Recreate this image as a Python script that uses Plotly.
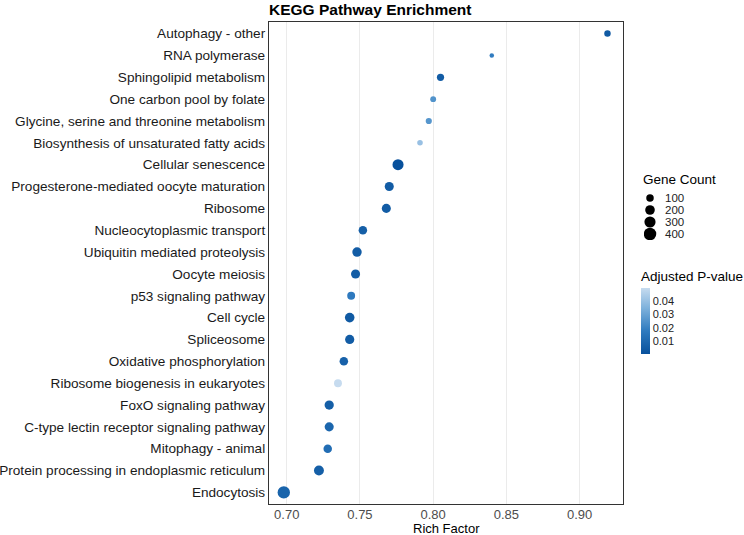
import plotly.graph_objects as go
import math

pathways = [
    "Autophagy - other",
    "RNA polymerase",
    "Sphingolipid metabolism",
    "One carbon pool by folate",
    "Glycine, serine and threonine metabolism",
    "Biosynthesis of unsaturated fatty acids",
    "Cellular senescence",
    "Progesterone-mediated oocyte maturation",
    "Ribosome",
    "Nucleocytoplasmic transport",
    "Ubiquitin mediated proteolysis",
    "Oocyte meiosis",
    "p53 signaling pathway",
    "Cell cycle",
    "Spliceosome",
    "Oxidative phosphorylation",
    "Ribosome biogenesis in eukaryotes",
    "FoxO signaling pathway",
    "C-type lectin receptor signaling pathway",
    "Mitophagy - animal",
    "Protein processing in endoplasmic reticulum",
    "Endocytosis",
]
rich_factor = [0.919, 0.840, 0.805, 0.800, 0.797, 0.791, 0.776, 0.770, 0.768,
               0.752, 0.748, 0.747, 0.744, 0.743, 0.743, 0.739, 0.735, 0.729,
               0.729, 0.728, 0.722, 0.698]
gene_count = [80, 25, 110, 60, 70, 50, 330, 200, 200, 170, 220, 200, 140, 230,
              210, 170, 140, 210, 200, 170, 250, 430]
padj = [0.004, 0.018, 0.005, 0.025, 0.026, 0.040, 0.0004, 0.005, 0.005, 0.006,
        0.005, 0.005, 0.017, 0.004, 0.005, 0.007, 0.0496, 0.006, 0.009, 0.012,
        0.006, 0.008]
legend_counts = [100, 200, 300, 400]
pval_ticks = [0.01, 0.02, 0.03, 0.04]
x_ticks = [0.70, 0.75, 0.80, 0.85, 0.90]


def diam(c):
    return 2 + 0.5 * math.sqrt(c)


FONT = "Liberation Sans, Arial, sans-serif"
colorscale = [[0.0, "#08519c"], [0.35, "#2f7bbf"], [0.7, "#7fb2dc"], [1.0, "#c6dbef"]]

W, H = 744, 535
ML, MR, MT, MB = 269, 0, 22, 31
PW, PH = W - ML - MR, H - MT - MB


def px_x(p):
    return (p - ML) / PW


def px_y(p):
    return (H - MB - p) / PH


fig = go.Figure()
fig.add_trace(go.Scatter(
    x=rich_factor, y=pathways, mode="markers", showlegend=False,
    xaxis="x", yaxis="y",
    marker=dict(
        size=[diam(c) for c in gene_count], sizemode="diameter",
        color=padj, colorscale=colorscale, cmin=min(padj), cmax=max(padj),
        line=dict(width=0), opacity=1,
        showscale=True,
        colorbar=dict(
            title=dict(text="Adjusted P-value", side="top",
                       font=dict(size=13.5, color="#000", family=FONT)),
            tickvals=pval_ticks, ticktext=[f"{v:.2f}" for v in pval_ticks],
            ticks="", ticklen=0, outlinewidth=0,
            tickfont=dict(size=11, color="#222", family=FONT),
            thickness=9, lenmode="pixels", len=86, ypad=0, xpad=0,
            x=px_x(641), xanchor="left", y=px_y(354), yanchor="bottom",
        ),
    ),
    hovertemplate="%{y}<br>Rich Factor: %{x}<extra></extra>",
))

# size legend drawn on its own small invisible axes
fig.add_trace(go.Scatter(
    x=[0] * len(legend_counts), y=list(range(len(legend_counts))),
    mode="markers", showlegend=False, xaxis="x2", yaxis="y2",
    marker=dict(size=[diam(c) + 0.5 for c in legend_counts], color="#000000",
                line=dict(width=0), opacity=1),
    hoverinfo="skip",
))
annotations = []
for i, c in enumerate(legend_counts):
    annotations.append(dict(
        x=1.3, y=i, xref="x2", yref="y2", text=str(c), showarrow=False,
        xanchor="left", yanchor="middle", font=dict(size=11.5, color="#222", family=FONT),
    ))
annotations.append(dict(
    x=px_x(641), y=px_y(180), xref="paper", yref="paper", text="Gene Count",
    showarrow=False, xanchor="left", yanchor="middle",
    font=dict(size=13.5, color="#000", family=FONT),
))
annotations.append(dict(
    x=0.5 * px_x(623), y=px_y(528), xref="paper", yref="paper", text="Rich Factor",
    showarrow=False, xanchor="center", yanchor="middle",
    font=dict(size=13, color="#000", family=FONT),
))

fig.update_layout(
    width=W, height=H,
    margin=dict(l=ML, r=MR, t=MT, b=MB, autoexpand=False),
    paper_bgcolor="white", plot_bgcolor="rgba(0,0,0,0)",
    font=dict(family=FONT, color="#000"),
    title=dict(text="<b>KEGG Pathway Enrichment</b>", x=269 / 744, xanchor="left",
               y=1 - 10 / 535, yanchor="middle",
               font=dict(size=15.5, color="#000", family=FONT)),
    showlegend=False,
    annotations=annotations,
    xaxis=dict(
        domain=[0, px_x(623)],
        range=[0.6879, 0.9296], tickvals=x_ticks,
        ticktext=[f"{v:.2f}" for v in x_ticks],
        tickfont=dict(size=13, color="#4d4d4d"),
        ticklabelstandoff=-2,
        showgrid=True, gridcolor="#ebebeb", gridwidth=1,
        zeroline=False, showline=True, linecolor="#333", linewidth=1.2, mirror=True,
        ticks="", ticklen=0,
    ),
    yaxis=dict(
        domain=[0, 1],
        categoryorder="array", categoryarray=pathways[::-1],
        range=[-0.53, len(pathways) - 1 + 0.53],
        tickfont=dict(size=13.6, color="#1a1a1a"),
        showgrid=False, zeroline=False,
        showline=True, linecolor="#333", linewidth=1.2, mirror=True,
        ticks="", ticklen=0,
    ),
    xaxis2=dict(
        domain=[px_x(644), 1], range=[-0.6, 9.4], visible=False, fixedrange=True,
        anchor="y2",
    ),
    yaxis2=dict(
        domain=[px_y(240), px_y(192)], range=[3.5, -0.5], visible=False, fixedrange=True,
        anchor="x2",
    ),
)

fig.write_html("out.html")
